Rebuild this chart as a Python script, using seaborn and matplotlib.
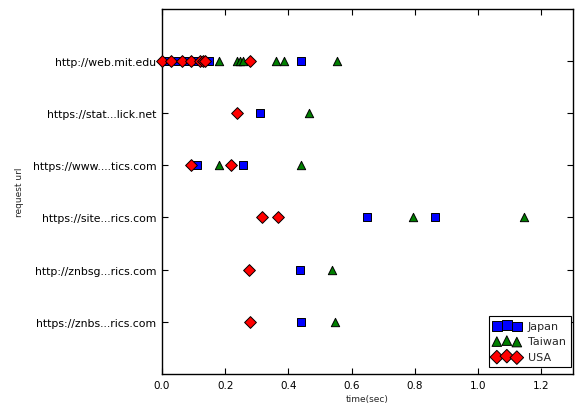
import matplotlib
matplotlib.use("Agg")
import matplotlib.pyplot as plt
import seaborn as sns
import pandas as pd

urls = ["http://web.mit.edu", "https://stat...lick.net", "https://www....tics.com",
        "https://site...rics.com", "http://znbsg...rics.com", "https://znbs...rics.com"]

japan_url = [0, 0, 0, 0, 0, 0, 0, 1, 2, 2, 3, 3, 4, 5]
japan_time = [0.01, 0.05, 0.08, 0.11, 0.14, 0.15, 0.44, 0.309, 0.11, 0.255, 0.648, 0.862, 0.435, 0.44]

taiwan_url = [0, 0, 0, 0, 0, 0, 0, 1, 2, 2, 3, 3, 4, 5]
taiwan_time = [0.18, 0.237, 0.246, 0.256, 0.36, 0.385, 0.553, 0.465, 0.18, 0.441, 0.795, 1.144, 0.539, 0.548]

usa_url = [0, 0, 0, 0, 0, 0, 0, 0, 1, 2, 2, 3, 3, 4, 5]
usa_time = [0.0, 0.03, 0.063, 0.092, 0.12, 0.13, 0.135, 0.278, 0.236, 0.092, 0.218, 0.317, 0.366, 0.274, 0.279]

countries = ["Japan", "Taiwan", "USA"]
colors = ["#0000ff", "#007f00", "#ff0000"]
markers = ["s", "^", "D"]

sns.set_style("ticks")
plt.rcParams['font.family'] = ['DejaVu Sans']

fig = plt.figure(figsize=(5.78, 4.06), dpi=100)
ax = fig.add_axes([162 / 578, 1 - 375 / 406, (573 - 162) / 578, (375 - 9.5) / 406])

series = [(japan_url, japan_time), (taiwan_url, taiwan_time), (usa_url, usa_time)]
for (u, t), name, col, mk in zip(series, countries, colors, markers):
    df = pd.DataFrame({"time": t, "row": u})
    sns.scatterplot(data=df, x="time", y="row", marker=mk, color=col,
                    edgecolor="black", linewidth=0.7, s=36, label=name,
                    legend=False, ax=ax, zorder=3, clip_on=False)

ax.set_xlim(0, 1.3)
ax.set_ylim(len(urls), -1)
ax.set_yticks(range(len(urls)))
ax.set_yticklabels(urls)
ax.set_xticks([0.0, 0.2, 0.4, 0.6, 0.8, 1.0, 1.2])
ax.set_xticklabels(["0.0", "0.2", "0.4", "0.6", "0.8", "1.0", "1.2"])
ax.tick_params(direction="in", top=True, right=True, length=4, width=0.8,
               labelsize=7.8, colors="black", pad=4)
ax.tick_params(axis="x", labelsize=7.5)
for sp in ax.spines.values():
    sp.set_linewidth(1.0)
    sp.set_color("black")
ax.set_xlabel("time(sec)", fontsize=6.5, labelpad=3)
ax.set_ylabel("request url", fontsize=6.5, labelpad=6)

leg = ax.legend(scatterpoints=3, loc="lower right", bbox_to_anchor=(0.995, 0.019),
                fontsize=8, frameon=True,
                fancybox=False, edgecolor="black", borderaxespad=0.0,
                handletextpad=0.7, borderpad=0.45, labelspacing=0.5,
                handlelength=2.4, markerscale=1.15,
                scatteryoffsets=[0.375, 0.5, 0.3125])
leg.get_frame().set_linewidth(0.8)
leg.get_frame().set_alpha(1)

fig.savefig("out.png", dpi=100)
